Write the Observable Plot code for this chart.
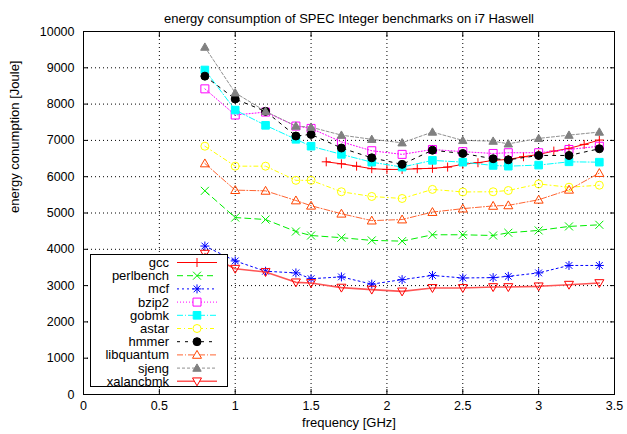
<!DOCTYPE html>
<html>
<head>
<meta charset="utf-8">
<script src="https://cdn.jsdelivr.net/npm/d3@7"></script>
<script src="https://cdn.jsdelivr.net/npm/@observablehq/plot@0.6"></script>
<style>
  html, body { margin: 0; padding: 0; background: #fff; }
  #chart svg { display: block; font-family: "Liberation Sans", Arial, sans-serif; }
</style>
</head>
<body>
<div id="chart"></div>
<script>
// ---------- data ----------
const title = "energy consumption of SPEC Integer benchmarks on i7 Haswell";
const xLabel = "frequency [GHz]";
const yLabel = "energy conumption [Joule]";
const xTicks = [0, 0.5, 1, 1.5, 2, 2.5, 3, 3.5];
const yTicks = [0, 1000, 2000, 3000, 4000, 5000, 6000, 7000, 8000, 9000, 10000];

const freqs = [0.8, 1.0, 1.2, 1.4, 1.5, 1.7, 1.9, 2.1, 2.3, 2.5, 2.7, 2.8, 3.0, 3.2, 3.4];
const gccFreqs = [1.6, 1.7, 1.8, 1.9, 2.0, 2.1, 2.2, 2.3, 2.4, 2.5, 2.6, 2.7, 2.8, 2.9, 3.0, 3.1, 3.2, 3.3, 3.4];

const gcc        = [6410, 6355, 6290, 6220, 6200, 6200, 6220, 6230, 6265, 6340, 6385, 6450, 6475, 6550, 6615, 6705, 6780, 6890, 7010];
const perlbench  = [5610, 4875, 4820, 4490, 4380, 4320, 4245, 4225, 4400, 4400, 4380, 4455, 4520, 4630, 4675];
const mcf        = [4090, 3680, 3395, 3350, 3190, 3240, 3040, 3165, 3280, 3210, 3220, 3255, 3350, 3555, 3555];
const bzip2      = [8420, 7700, 7780, 7395, 7330, 6960, 6715, 6615, 6750, 6690, 6640, 6660, 6660, 6750, 6840];
const gobmk      = [8940, 7835, 7415, 7030, 6840, 6615, 6400, 6265, 6450, 6400, 6310, 6290, 6320, 6410, 6400];
const astar      = [6840, 6290, 6290, 5900, 5900, 5585, 5455, 5400, 5650, 5580, 5585, 5620, 5800, 5710, 5765];
const hmmer      = [8770, 8140, 7800, 7120, 7165, 6790, 6520, 6340, 6730, 6640, 6495, 6465, 6585, 6585, 6770];
const libquantum = [6365, 5630, 5610, 5345, 5200, 4980, 4790, 4820, 5025, 5120, 5195, 5210, 5365, 5640, 6100];
const sjeng      = [9570, 8310, 7800, 7395, 7365, 7145, 7030, 6935, 7230, 7000, 6980, 6905, 7055, 7145, 7230];
const xalancbmk  = [3880, 3465, 3375, 3090, 3070, 2945, 2890, 2840, 2935, 2935, 2960, 2960, 2980, 3025, 3070];

// ---------- symbols ----------
const R = s => Math.sqrt(s / Math.PI);
const symPlus = {draw(c, s) { const r = R(s); c.moveTo(-r, 0); c.lineTo(r, 0); c.moveTo(0, -r); c.lineTo(0, r); }};
const symTimes = {draw(c, s) { const r = R(s) * 0.8; c.moveTo(-r, -r); c.lineTo(r, r); c.moveTo(-r, r); c.lineTo(r, -r); }};
const symStar = {draw(c, s) { const r = R(s); const q = r * 0.75; c.moveTo(-r, 0); c.lineTo(r, 0); c.moveTo(0, -r); c.lineTo(0, r); c.moveTo(-q, -q); c.lineTo(q, q); c.moveTo(-q, q); c.lineTo(q, -q); }};
const symSquare = {draw(c, s) { const r = R(s); c.moveTo(-r, -r); c.lineTo(r, -r); c.lineTo(r, r); c.lineTo(-r, r); c.closePath(); }};
const symCircle = {draw(c, s) { const r = R(s); c.moveTo(r, 0); c.arc(0, 0, r, 0, 2 * Math.PI); c.closePath(); }};
const symTriUp = {draw(c, s) { const r = R(s); c.moveTo(0, -r); c.lineTo(r, 0.75 * r); c.lineTo(-r, 0.75 * r); c.closePath(); }};
const symTriDown = {draw(c, s) { const r = R(s); c.moveTo(0, r); c.lineTo(r, -0.75 * r); c.lineTo(-r, -0.75 * r); c.closePath(); }};

// series styling
const series = [
  {name: "gcc",        xs: gccFreqs, ys: gcc,        color: "#ff0000", line: "#ff0000", dash: null,      w: 1,   sym: symPlus,    r: 4.5, filled: false},
  {name: "perlbench",  xs: freqs,    ys: perlbench,  color: "#00ee00", line: "#00ee00", dash: "6,4",     w: 1,   sym: symTimes,   r: 5,   filled: false},
  {name: "mcf",        xs: freqs,    ys: mcf,        color: "#0000ff", line: "#0000ff", dash: "2,3",     w: 1,   sym: symStar,    r: 4.5, filled: false},
  {name: "bzip2",      xs: freqs,    ys: bzip2,      color: "#ff00ff", line: "#ff00ff", dash: "1,2",     w: 1,   sym: symSquare,  r: 4,   filled: false},
  {name: "gobmk",      xs: freqs,    ys: gobmk,      color: "#00ffff", line: "#00ffff", dash: "6,2,1,2", w: 1,   sym: symSquare,  r: 3.8, filled: true},
  {name: "astar",      xs: freqs,    ys: astar,      color: "#ffff00", line: "#ffff00", dash: "4,3,1,3", w: 1,   sym: symCircle,  r: 4,   filled: false},
  {name: "hmmer",      xs: freqs,    ys: hmmer,      color: "#000000", line: "#000000", dash: "3,5",     w: 1,   sym: symCircle,  r: 4,   filled: true},
  {name: "libquantum", xs: freqs,    ys: libquantum, color: "#ff4500", line: "#ff6633", dash: "6,2,1,2", w: 1,   sym: symTriUp,   r: 4.5, filled: false},
  {name: "sjeng",      xs: freqs,    ys: sjeng,      color: "#808080", line: "#909090", dash: "3,2",     w: 1,   sym: symTriUp,   r: 4.2, filled: true},
  {name: "xalancbmk",  xs: freqs,    ys: xalancbmk,  color: "#ff0000", line: "#ff5555", dash: null,      w: 1.6, sym: symTriDown, r: 4.5, filled: false}
];

const marks = [
  Plot.gridX(xTicks, {stroke: "#000", strokeOpacity: 1, strokeDasharray: "1,3"}),
  Plot.gridY(yTicks, {stroke: "#000", strokeOpacity: 1, strokeDasharray: "1,3"})
];
for (const s of series) {
  const rows = s.xs.map((x, i) => ({f: x, v: s.ys[i]}));
  marks.push(Plot.line(rows, {x: "f", y: "v", stroke: s.line, strokeWidth: s.w, strokeDasharray: s.dash || undefined}));
  marks.push(Plot.dot(rows, {x: "f", y: "v", symbol: s.sym, r: s.r,
    fill: s.filled ? s.color : "none", stroke: s.color, strokeWidth: 1}));
}
marks.push(
  Plot.frame({stroke: "#000", strokeWidth: 1}),
  Plot.axisX({ticks: xTicks, tickSize: 0, tickPadding: 7, label: null, fontSize: 12.5, tickFormat: d => String(d)}),
  Plot.axisY({ticks: yTicks, tickSize: 0, tickPadding: 9, label: null, fontSize: 12.5, tickFormat: d => String(d)}),
  Plot.axisX({ticks: xTicks, anchor: "bottom", tickSize: -5, tickFormat: () => "", label: null}),
  Plot.axisX({ticks: xTicks, anchor: "top", tickSize: -5, tickFormat: () => "", label: null}),
  Plot.axisY({ticks: yTicks, anchor: "left", tickSize: -5, tickFormat: () => "", label: null}),
  Plot.axisY({ticks: yTicks, anchor: "right", tickSize: -5, tickFormat: () => "", label: null}),
  Plot.text([title], {frameAnchor: "top", text: d => d, dy: -18, fontSize: 13}),
  Plot.text([xLabel], {frameAnchor: "bottom", text: d => d, dy: 32, fontSize: 13}),
  Plot.text([yLabel], {frameAnchor: "left", text: d => d, dx: -69, rotate: -90, fontSize: 13})
);

const svg = Plot.plot({
  width: 627, height: 434,
  marginLeft: 83, marginRight: 13, marginTop: 31, marginBottom: 40,
  style: {fontFamily: "'Liberation Sans', Arial, sans-serif", fontSize: "12px", color: "#000", background: "#fff"},
  x: {domain: [0, 3.5]},
  y: {domain: [0, 10000]},
  marks
});
document.getElementById("chart").appendChild(svg);

// ---------- legend (opaque box inside plot) ----------
const g = d3.select(svg).append("g").attr("font-size", 13).attr("font-family", "'Liberation Sans', Arial, sans-serif");
g.append("rect").attr("x", 90.5).attr("y", 254.5).attr("width", 137).attr("height", 132)
  .attr("fill", "#fff").attr("stroke", "#000").attr("stroke-width", 1);
series.forEach((s, i) => {
  const y = 262.5 + i * 13.2;
  g.append("text").attr("x", 169).attr("y", y).attr("dy", "0.35em").attr("text-anchor", "end").attr("fill", "#000").text(s.name);
  g.append("line").attr("x1", 177).attr("x2", 217).attr("y1", y).attr("y2", y)
    .attr("stroke", s.line).attr("stroke-width", s.w).attr("stroke-dasharray", s.dash || null);
  const p = d3.path();
  s.sym.draw(p, s.r * s.r * Math.PI);
  g.append("path").attr("d", p.toString()).attr("transform", `translate(197,${y})`)
    .attr("fill", s.filled ? s.color : "#fff").attr("stroke", s.color).attr("stroke-width", 1);
});
</script>
</body>
</html>
